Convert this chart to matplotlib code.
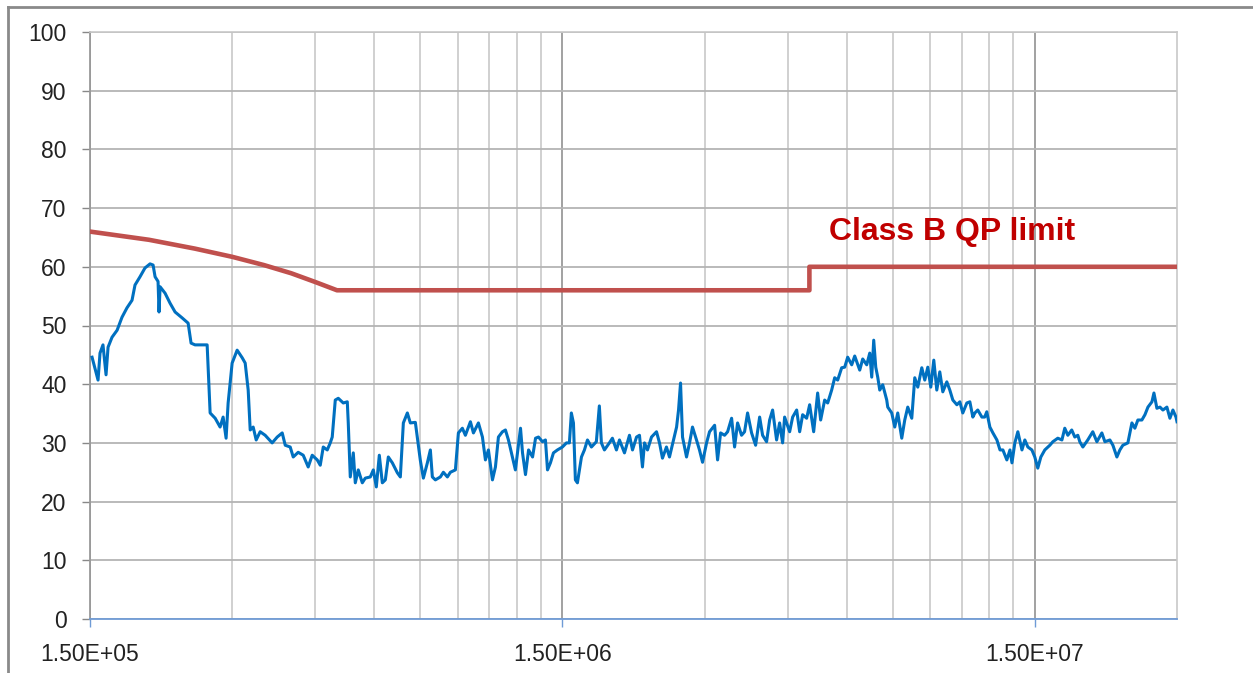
import matplotlib
matplotlib.use("Agg")
import matplotlib.pyplot as plt
from matplotlib.ticker import FixedLocator, FixedFormatter, NullFormatter
from matplotlib.lines import Line2D

# ---------------- data ----------------
freq_mhz = [
    0.1515, 0.156, 0.1575, 0.1598, 0.1622, 0.1638, 0.1670, 0.1712, 0.1753, 0.1796,
    0.1841, 0.1868, 0.1914, 0.1961, 0.2010, 0.2040, 0.2060, 0.2090, 0.2100, 0.2111,
    0.2163, 0.2216, 0.2271, 0.2350, 0.2420, 0.2455, 0.2503, 0.2604, 0.2655, 0.2668,
    0.2694, 0.2761, 0.2828, 0.2870, 0.2912, 0.2941, 0.2999, 0.3073, 0.3150, 0.3196,
    0.3243, 0.3275, 0.3323, 0.3372, 0.3438, 0.3523, 0.3645, 0.3736, 0.3828, 0.3885,
    0.3980, 0.4039, 0.4138, 0.4241, 0.4345, 0.4431, 0.4541, 0.4608, 0.4676, 0.4768,
    0.4838, 0.4885, 0.4958, 0.5031, 0.5155, 0.5257, 0.5282, 0.5334, 0.5413, 0.5466,
    0.5546, 0.5656, 0.5739, 0.5881, 0.5968, 0.6056, 0.6145, 0.6236, 0.6328, 0.6421,
    0.6548, 0.6710, 0.6808, 0.6909, 0.7045, 0.7148, 0.7325, 0.7506, 0.7617, 0.7767,
    0.7881, 0.7958, 0.8076, 0.8275, 0.8397, 0.8563, 0.8689, 0.8904, 0.9035, 0.9212,
    0.9348, 0.9580, 0.9722, 0.9961, 1.0158, 1.0307, 1.0459, 1.0666, 1.0823, 1.0982,
    1.1199, 1.1364, 1.1531, 1.1754, 1.1928, 1.223, 1.235, 1.253, 1.272, 1.297,
    1.316, 1.335, 1.361, 1.381, 1.395, 1.415, 1.436, 1.464, 1.486, 1.500,
    1.530, 1.552, 1.567, 1.583, 1.598, 1.614, 1.646, 1.670, 1.695, 1.728,
    1.770, 1.796, 1.814, 1.841, 1.886, 1.914, 1.952, 1.981, 2.030, 2.080,
    2.111, 2.153, 2.184, 2.216, 2.238, 2.271, 2.316, 2.373, 2.408, 2.443,
    2.491, 2.528, 2.579, 2.617, 2.642, 2.668, 2.694, 2.747, 2.788, 2.828,
    2.884, 2.926, 2.970, 3.029, 3.073, 3.150, 3.196, 3.243, 3.307, 3.356,
    3.422, 3.472, 3.523, 3.592, 3.645, 3.699, 3.772, 3.847, 3.923, 3.980,
    4.058, 4.119, 4.179, 4.261, 4.324, 4.388, 4.431, 4.541, 4.608, 4.699,
    4.768, 4.838, 4.933, 5.006, 5.105, 5.205, 5.282, 5.386, 5.466, 5.573,
    5.656, 5.739, 5.852, 5.939, 6.026, 6.145, 6.236, 6.390, 6.484, 6.612,
    6.710, 6.775, 6.841, 6.909, 6.976, 7.045, 7.148, 7.289, 7.325, 7.469,
    7.580, 7.691, 7.843, 7.958, 8.076, 8.235, 8.356, 8.480, 8.647, 8.774,
    8.904, 9.035, 9.168, 9.303, 9.440, 9.580, 9.769, 9.913, 10.06, 10.26,
    10.41, 10.56, 10.77, 10.93, 11.09, 11.20, 11.36, 11.59, 11.75, 11.87,
    12.05, 12.23, 12.47, 12.66, 12.84, 13.09, 13.29, 13.42, 13.61, 13.81,
    14.09, 14.29, 14.50, 14.79, 15.00, 15.22, 15.45, 15.75, 16.14, 16.38,
    16.78, 17.12, 17.36, 17.62, 17.96, 18.23, 18.50, 18.68, 18.96, 19.42,
    19.90, 20.30, 20.80, 21.11, 21.63, 21.95, 22.38, 22.71, 23.04, 23.61,
    24.08, 24.43, 24.79, 25.28, 25.66, 26.04, 26.55, 26.81, 27.20, 27.61,
    28.01, 28.56, 28.98, 29.41, 29.85, 30.00,
]
level_dbuv = [
    44.6, 40.7, 45.3, 46.7, 41.6, 46.3, 48.0, 49.2, 51.4, 53.0,
    54.3, 56.9, 58.3, 59.8, 60.5, 60.3, 58.3, 57.5, 52.3, 56.6,
    55.5, 53.8, 52.3, 51.3, 50.4, 47.0, 46.7, 46.7, 46.7, 42.9,
    35.1, 34.2, 32.7, 34.4, 30.8, 36.8, 43.6, 45.8, 44.5, 43.6,
    39.0, 32.2, 32.7, 30.5, 31.9, 31.3, 30.0, 31.0, 31.7, 29.6,
    29.3, 27.6, 28.4, 27.9, 25.9, 27.9, 27.1, 26.2, 29.3, 28.8,
    30.0, 31.0, 37.3, 37.6, 36.8, 37.0, 33.4, 24.2, 28.3, 23.2,
    25.4, 23.2, 24.0, 24.2, 25.4, 22.5, 27.9, 23.2, 23.7, 27.6,
    26.6, 24.9, 24.2, 33.4, 35.1, 33.4, 33.5, 27.0, 24.0, 26.6,
    28.8, 24.2, 23.7, 24.2, 25.0, 24.2, 25.0, 25.4, 31.7, 32.5,
    31.3, 33.6, 31.7, 33.4, 31.0, 27.1, 28.8, 23.7, 25.9, 31.0,
    31.9, 32.2, 30.5, 27.6, 25.4, 32.5, 28.3, 24.6, 28.8, 27.6,
    30.8, 31.0, 30.2, 30.5, 25.4, 26.6, 28.3, 28.8, 29.1, 29.3,
    30.0, 30.0, 35.1, 33.4, 23.7, 23.2, 27.6, 28.8, 30.5, 29.3,
    30.2, 36.3, 30.0, 28.8, 30.0, 30.8, 28.8, 30.5, 28.3, 31.3,
    28.8, 31.0, 31.3, 25.9, 30.0, 28.8, 31.0, 31.9, 30.0, 27.4,
    29.3, 27.6, 30.5, 32.7, 35.6, 40.2, 31.0, 27.6, 30.0, 32.7,
    30.5, 28.8, 26.7, 30.0, 31.9, 33.0, 27.1, 31.7, 31.3, 31.9,
    34.2, 29.3, 33.4, 31.3, 31.9, 35.1, 31.7, 29.6, 34.4, 31.3,
    30.2, 33.9, 35.6, 30.5, 33.4, 30.0, 34.4, 31.9, 34.4, 35.6,
    31.9, 34.8, 34.2, 36.5, 31.9, 38.5, 33.9, 37.3, 36.8, 39.0,
    41.1, 40.7, 42.8, 42.9, 44.6, 43.3, 44.8, 42.4, 44.3, 43.3,
    45.3, 41.2, 47.5, 42.9, 41.2, 39.0, 39.9, 37.3, 36.1, 35.1,
    32.7, 35.1, 30.8, 33.9, 36.1, 34.2, 41.1, 39.5, 42.8, 40.7,
    42.9, 39.5, 44.1, 39.0, 42.1, 38.7, 40.4, 39.0, 37.3, 36.5,
    37.0, 35.1, 36.8, 37.0, 34.4, 35.1, 35.6, 34.4, 34.4, 35.3,
    32.7, 31.7, 30.5, 28.8, 28.8, 27.1, 28.8, 26.6, 30.0, 31.9,
    28.8, 30.5, 29.3, 28.8, 27.6, 25.7, 27.6, 28.8, 29.6, 30.2,
    30.8, 30.5, 32.5, 31.3, 32.2, 31.0, 31.3, 30.2, 29.3, 30.5,
    31.9, 30.2, 31.7, 30.2, 30.5, 29.6, 27.6, 28.8, 29.6, 30.0,
    33.4, 32.5, 33.9, 33.9, 34.8, 36.1, 37.0, 38.5, 35.9, 36.1,
    35.6, 36.1, 34.2, 35.6, 34.4, 33.6,
]

limit_freq_mhz = [0.15, 0.20, 0.25, 0.30, 0.35, 0.40, 0.45, 0.50, 5.0, 5.0, 30.0]
limit_dbuv = [66.0, 64.6, 63.1, 61.7, 60.3, 58.9, 57.4, 56.0, 56.0, 60.0, 60.0]

limit_label = "Class B QP limit"
x_major_ticks_mhz = [0.15, 1.5, 15.0]
x_major_labels = ["1.50E+05", "1.50E+06", "1.50E+07"]
y_ticks = [0, 10, 20, 30, 40, 50, 60, 70, 80, 90, 100]

# ---------------- figure ----------------
W, H = 1253, 673
fig = plt.figure(figsize=(W / 100, H / 100), dpi=100)
fig.patch.set_facecolor("white")

left, right, top, bottom = 90, 1177, 32, 619
ax = fig.add_axes([left / W, (H - bottom) / H, (right - left) / W, (bottom - top) / H])

ax.set_xscale("log")
ax.set_xlim(0.15, 30.0)
ax.set_ylim(0, 100)

# minor gridlines at 2..9 x 1.5*10^n
minor = []
for base in [0.15, 1.5, 15.0]:
    for k in range(2, 10):
        v = base * k
        if v < 30.0:
            minor.append(v)

ax.xaxis.set_major_locator(FixedLocator(x_major_ticks_mhz))
ax.xaxis.set_major_formatter(FixedFormatter(x_major_labels))
ax.xaxis.set_minor_locator(FixedLocator(minor))
ax.xaxis.set_minor_formatter(NullFormatter())
ax.yaxis.set_major_locator(FixedLocator(y_ticks))

ax.grid(True, which="major", axis="y", color="#b4b4b4", linewidth=1.3)
ax.grid(True, which="major", axis="x", color="#9a9a9a", linewidth=1.3)
ax.grid(True, which="minor", axis="x", color="#cdcdcd", linewidth=1.3)
ax.set_axisbelow(True)

ax.tick_params(axis="y", which="major", length=6, width=1.0, color="#888888",
               pad=11, labelsize=16.5)
ax.tick_params(axis="x", which="major", length=6, width=1.0, color="#6f9bd6",
               pad=11, labelsize=16.5)
ax.tick_params(axis="x", which="minor", length=0)
for lab in ax.get_xticklabels() + ax.get_yticklabels():
    lab.set_fontfamily(["Liberation Sans", "DejaVu Sans"])
    lab.set_color("#222222")

for s in ["top", "right"]:
    ax.spines[s].set_color("#c8c8c8")
    ax.spines[s].set_linewidth(1.2)
ax.spines["left"].set_color("#9a9a9a")
ax.spines["left"].set_linewidth(1.3)
ax.spines["bottom"].set_color("#6f9bd6")
ax.spines["bottom"].set_linewidth(1.3)

ax.plot(freq_mhz, level_dbuv, color="#0070C0", linewidth=2.2, solid_joinstyle="round", zorder=3)
ax.plot(limit_freq_mhz, limit_dbuv, color="#C0504D", linewidth=3.3, zorder=4)

ax.text(5.49, 65.9, limit_label, color="#C00000", fontsize=23, fontweight="bold",
        family=["Liberation Sans", "DejaVu Sans"], ha="left", va="center", zorder=5)

# outer chart-area border (top & left)
fig.add_artist(Line2D([8 / W, 1.0], [1 - 7 / H, 1 - 7 / H], transform=fig.transFigure,
                      color="#8a8a8a", linewidth=2.0))
fig.add_artist(Line2D([8 / W, 8 / W], [0.0, 1 - 7 / H], transform=fig.transFigure,
                      color="#8a8a8a", linewidth=2.0))

fig.savefig("out.png", dpi=100, facecolor="white")
